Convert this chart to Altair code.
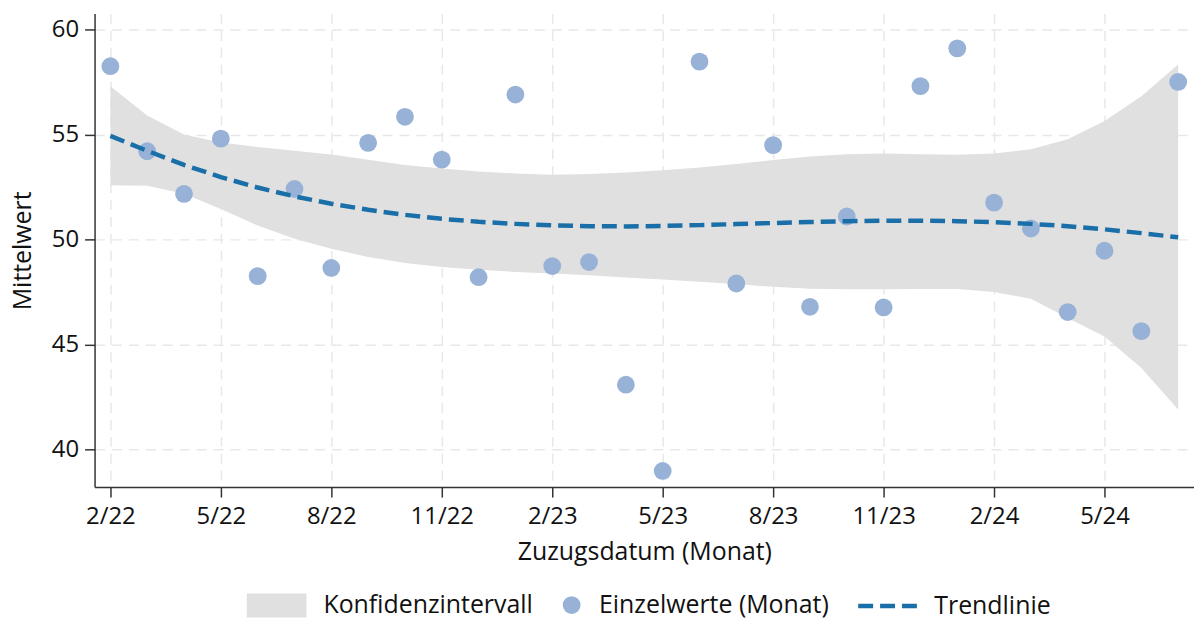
import altair as alt
import pandas as pd

# ---- data ----
monat_index = list(range(30))  # 0 = 2/22 ... 29 = 7/24
tick_positions = [0, 3, 6, 9, 12, 15, 18, 21, 24, 27]
tick_labels = ["2/22", "5/22", "8/22", "11/22", "2/23", "5/23", "8/23", "11/23", "2/24", "5/24"]
y_ticks = [40, 45, 50, 55, 60]
legend_names = ["Konfidenzintervall", "Einzelwerte (Monat)", "Trendlinie"]

einzelwerte = [58.25, 54.2, 52.17, 54.8, 48.25, 52.4, 48.64, 54.6, 55.84, 53.8,
               48.2, 56.9, 48.73, 48.92, 43.08, 38.97, 58.47, 47.9, 54.49, 46.79,
               51.09, 46.76, 57.3, 59.1, 51.75, 50.52, 46.54, 49.46, 45.63, 57.5]
trend = [54.93, 54.22, 53.55, 52.97, 52.47, 52.05, 51.7, 51.41, 51.17, 50.98,
         50.84, 50.74, 50.67, 50.63, 50.62, 50.64, 50.68, 50.73, 50.78, 50.83,
         50.87, 50.89, 50.89, 50.87, 50.82, 50.74, 50.63, 50.48, 50.3, 50.1]
ki_oben = [57.3, 55.9, 55.0, 54.62, 54.4, 54.22, 54.04, 53.8, 53.55, 53.38,
           53.24, 53.14, 53.08, 53.11, 53.19, 53.3, 53.43, 53.59, 53.78, 53.95,
           54.06, 54.09, 54.06, 54.03, 54.09, 54.3, 54.77, 55.64, 56.82, 58.33]
ki_unten = [52.58, 52.55, 52.17, 51.45, 50.66, 50.03, 49.56, 49.16, 48.88, 48.69,
            48.56, 48.45, 48.37, 48.29, 48.18, 48.09, 47.98, 47.87, 47.74, 47.65,
            47.62, 47.62, 47.64, 47.64, 47.5, 47.17, 46.26, 45.37, 43.87, 41.9]

df = pd.DataFrame({
    "m": monat_index,
    "wert": einzelwerte,
    "trend": trend,
    "oben": ki_oben,
    "unten": ki_unten,
})
df["ki"] = legend_names[0]
df["punkt"] = legend_names[1]
df["linie"] = legend_names[2]

FONT = "Open Sans"
FS = 24
FS_BIG = 25
label_expr = "[" + ",".join(f"'{t}'" for t in tick_labels) + "][round(datum.value/3)]"

x_enc = alt.X(
    "m:Q",
    scale=alt.Scale(domain=[-0.43, 29.43], nice=False, zero=False),
    axis=alt.Axis(values=tick_positions, labelExpr=label_expr,
                  title="Zuzugsdatum (Monat)", labelPadding=8, titlePadding=11),
)
y_scale = alt.Scale(domain=[38.2, 60.76], nice=False, zero=False)
y_axis = alt.Axis(values=y_ticks, title="Mittelwert", labelPadding=6, titlePadding=16)

band = alt.Chart(df).mark_area(opacity=1).encode(
    x=x_enc,
    y=alt.Y("unten:Q", scale=y_scale, axis=y_axis),
    y2="oben:Q",
    fill=alt.Fill(
        "ki:N",
        scale=alt.Scale(domain=[legend_names[0]], range=["#e0e0e0"]),
        legend=alt.Legend(
            title=None, orient="none", legendX=153, legendY=565,
            symbolType="M-1,-0.4H1V0.4H-1Z", symbolSize=3600,
            symbolStrokeWidth=0, symbolOpacity=1, labelOffset=17, labelLimit=600,
        ),
    ),
)

points = alt.Chart(df).mark_circle(size=320, opacity=1).encode(
    x=x_enc,
    y=alt.Y("wert:Q", scale=y_scale, axis=y_axis),
    color=alt.Color(
        "punkt:N",
        scale=alt.Scale(domain=[legend_names[1]], range=["#97b2d6"]),
        legend=alt.Legend(
            title=None, orient="none", legendX=467, legendY=582,
            symbolType="circle", symbolSize=320, symbolStrokeWidth=0,
            symbolOpacity=1, labelOffset=15, labelLimit=600,
        ),
    ),
)

line = alt.Chart(df).mark_line(strokeDash=[15, 7], strokeWidth=4.5).encode(
    x=x_enc,
    y=alt.Y("trend:Q", scale=y_scale, axis=y_axis),
    stroke=alt.Stroke(
        "linie:N",
        scale=alt.Scale(domain=[legend_names[2]], range=["#1a6fa8"]),
        legend=alt.Legend(
            title=None, orient="none", legendX=765, legendY=563,
            symbolType="stroke", symbolSize=3600, symbolStrokeWidth=4.5,
            symbolDash=[15, 7], labelOffset=14, labelLimit=600,
        ),
    ),
)

chart = alt.layer(band, points, line).properties(
    width=1105,
    height=476,
    autosize=alt.AutoSizeParams(type="none"),
    padding={"left": 87, "top": 4, "right": 0, "bottom": 131},
).configure_axis(
    domainColor="#333333", domainWidth=1.5,
    tickColor="#333333", tickWidth=1.5, tickSize=10,
    labelFont=FONT, labelFontSize=FS, labelColor="#111111",
    titleFont=FONT, titleFontSize=FS_BIG, titleFontWeight="normal", titleColor="#111111",
    gridColor="#e8e8e8", gridDash=[10, 7], gridWidth=1.5,
).configure_legend(
    labelFont=FONT, labelFontSize=FS_BIG, labelColor="#111111", padding=0,
).configure_view(strokeWidth=0)

chart.save("out.html", embed_options={"renderer": "svg", "actions": False})
